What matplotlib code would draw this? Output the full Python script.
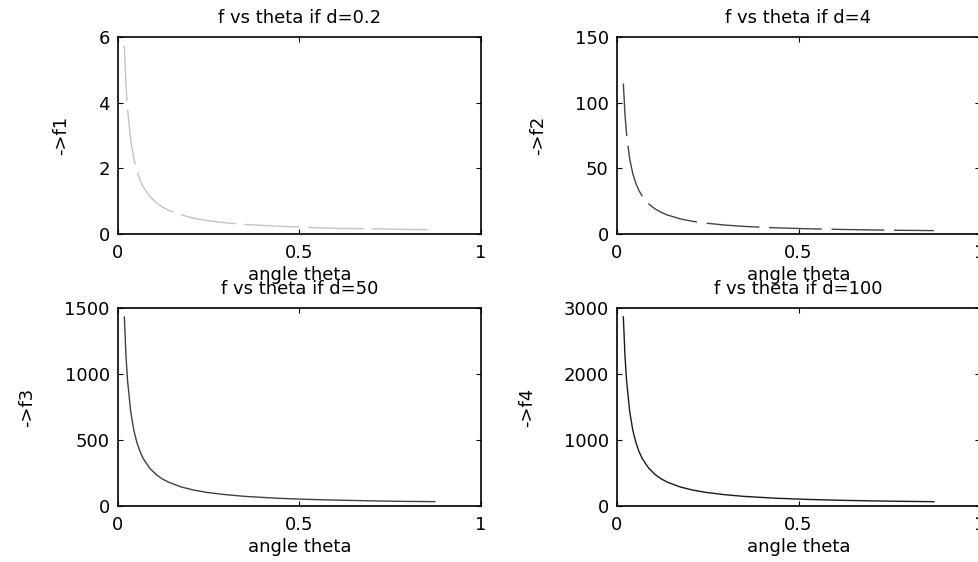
import numpy as np
import matplotlib
matplotlib.use('Agg')
import matplotlib.pyplot as plt

plt.rcParams['font.family'] = ['DejaVu Sans']

# angle theta in degrees (converted to radians for the x axis)
theta_deg = [1, 1.25, 1.5, 2, 2.5, 3, 3.5, 4, 5, 6, 7, 8, 10, 12, 14, 17, 20, 25, 30, 35, 40, 45, 50]

f1 = [5.73, 4.58, 3.82, 2.87, 2.29, 1.91, 1.64, 1.43, 1.15, 0.96, 0.82, 0.72, 0.58, 0.48,
      0.41, 0.34, 0.29, 0.24, 0.20, 0.17, 0.16, 0.14, 0.13]
f2 = [114.6, 91.7, 76.4, 57.3, 45.8, 38.2, 32.8, 28.7, 22.9, 19.1, 16.4, 14.4, 11.5, 9.6,
      8.3, 6.8, 5.8, 4.7, 4.0, 3.5, 3.1, 2.8, 2.6]
f3 = [1432, 1146, 955, 716, 573, 478, 410, 358, 287, 239, 205, 180, 144, 120,
      103, 86, 73, 59, 50, 44, 39, 35, 33]
f4 = [2865, 2292, 1910, 1433, 1146, 955, 819, 717, 574, 478, 410, 359, 288, 240,
      207, 171, 146, 118, 100, 87, 78, 71, 65]

d_vals = ['0.2', '4', '50', '100']
ylabels = ['->f1', '->f2', '->f3', '->f4']
ylims = [6, 150, 1500, 3000]
yticks = [[0, 2, 4, 6], [0, 50, 100, 150], [0, 500, 1000, 1500], [0, 1000, 2000, 3000]]
colors = ['#c4c4c4', '#444444', '#404040', '#1a1a1a']
# top curves look broken up in the reference
dashes = [(40, 6), (38, 7), None, None]

theta = np.deg2rad(theta_deg)

fig = plt.figure(figsize=(9.79, 5.62), dpi=100)
W, H = 979, 562
# axes boxes in pixels: left, top, width, height
boxes = [(118, 37, 363, 197), (617, 37, 363, 197),
         (118, 308, 363, 198), (617, 308, 363, 198)]

for i, f in enumerate([f1, f2, f3, f4]):
    l, t, w, h = boxes[i]
    ax = fig.add_axes([l / W, 1 - (t + h) / H, w / W, h / H])
    line, = ax.plot(theta, f, color=colors[i], lw=1.0)
    if dashes[i]:
        line.set_dashes(dashes[i])
    ax.set_xlim(0, 1)
    ax.set_ylim(0, ylims[i])
    ax.set_xticks([0, 0.5, 1])
    ax.set_xticklabels(['0', '0.5', '1'])
    ax.set_yticks(yticks[i])
    ax.tick_params(direction='in', top=True, right=True, length=3.5, width=0.8,
                   labelsize=13)
    ax.tick_params(axis='x', pad=7)
    ax.tick_params(axis='y', pad=6)
    for s in ax.spines.values():
        s.set_linewidth(1.2)
    ax.set_title('f vs theta if d=' + d_vals[i], fontsize=13, pad=10)
    ax.set_xlabel('angle theta', fontsize=13, labelpad=3)
    ax.set_ylabel(ylabels[i], fontsize=13, labelpad=20)

fig.savefig('out.png', dpi=100)
